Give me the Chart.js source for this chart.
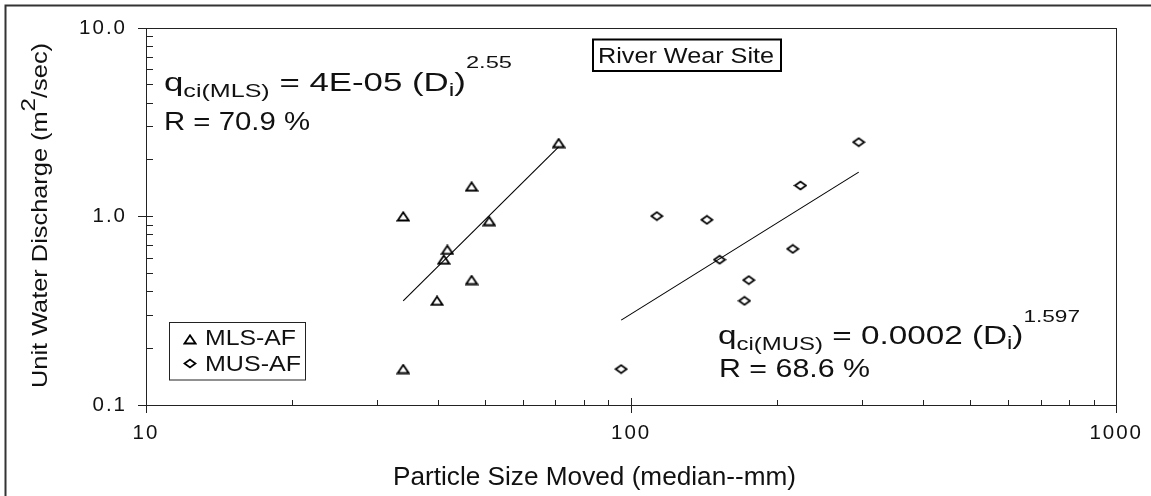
<!DOCTYPE html>
<html><head><meta charset="utf-8">
<script src="https://cdn.jsdelivr.net/npm/chart.js@4.4.1/dist/chart.umd.min.js"></script>
<style>html,body{margin:0;padding:0;background:#fff;overflow:hidden}</style>
</head><body>
<canvas id="c" width="1151" height="496" style="width:1151px;height:496px;display:block"></canvas>
<script>
// ---- data ----
const mlsSize = [70.9, 46.9, 33.9, 51.0, 41.8, 41.1, 46.9, 39.8, 33.9];
const mlsQ    = [2.45, 1.44, 1.00, 0.945, 0.665, 0.59, 0.46, 0.357, 0.155];
const musSize = [294.6, 223.4, 113.0, 143.3, 215.4, 152.2, 174.8, 171.3, 95.4];
const musQ    = [2.48, 1.46, 1.005, 0.96, 0.673, 0.59, 0.46, 0.357, 0.155];
const mlsFitSize = [33.9, 70.9];
const mlsFitQ    = [0.357, 2.34];
const musFitSize = [95.4, 294.6];
const musFitQ    = [0.282, 1.72];
const xTickVals = [10, 100, 1000];
const yTickVals = [0.1, 1, 10];
const seriesNames = ['MLS-AF', 'MUS-AF'];

const FAM = "'Liberation Sans', Arial, Helvetica, sans-serif";
const INK = '#111';

function marker(kind) {
  const c = document.createElement('canvas');
  c.width = 14; c.height = 11;
  const g = c.getContext('2d');
  g.strokeStyle = '#000'; g.lineWidth = 1.8; g.lineJoin = 'miter';
  g.beginPath();
  if (kind === 'tri') { g.moveTo(1.5, 9.5); g.lineTo(7, 1.3); g.lineTo(12.5, 9.5); g.closePath(); }
  else { g.moveTo(1.5, 5.5); g.lineTo(7, 1.5); g.lineTo(12.5, 5.5); g.lineTo(7, 9.5); g.closePath(); }
  g.stroke();
  return c;
}
const triM = marker('tri'), diaM = marker('dia');

function pts(xs, ys) { return xs.map((x, i) => ({x: x, y: ys[i]})); }

// draw rich text pieces scaled horizontally to fit target width
function fitText(ctx, pieces, x, base, targetW, rot) {
  ctx.save();
  ctx.letterSpacing = '0px';
  let nat = 0;
  pieces.forEach(p => { ctx.font = p.size + 'px ' + FAM; p.w = ctx.measureText(p.t).width; nat += p.w; });
  const s = targetW / nat;
  ctx.translate(x, base);
  if (rot) ctx.rotate(-Math.PI / 2);
  ctx.scale(s, 1);
  ctx.fillStyle = INK;
  ctx.textBaseline = 'alphabetic';
  ctx.textAlign = 'left';
  let cx = 0;
  pieces.forEach(p => { ctx.font = p.size + 'px ' + FAM; ctx.fillText(p.t, cx, p.dy || 0); cx += p.w; });
  ctx.restore();
}

const LS = '2px';
const al = v => Math.round(v - 0.5) + 0.5;

const decor = {
  id: 'decor',
  afterInit(ch) { ch.ctx.letterSpacing = LS; },
  beforeUpdate(ch) { ch.ctx.letterSpacing = LS; },
  beforeDraw(ch) { ch.ctx.letterSpacing = LS; },
  afterDraw(ch) {
    const ctx = ch.ctx, a = ch.chartArea, xs = ch.scales.x, ys = ch.scales.y;
    ctx.save();
    ctx.letterSpacing = '0px';
    // outer frame (top + left visible)
    ctx.strokeStyle = '#333'; ctx.lineWidth = 2;
    ctx.strokeRect(5.5, 5.5, 1160, 500);
    // plot frame
    ctx.strokeStyle = '#222'; ctx.lineWidth = 1;
    ctx.strokeRect(al(a.left), al(a.top), al(a.right) - al(a.left), al(a.bottom) - al(a.top));
    // inner minor ticks
    ctx.beginPath();
    [0.1, 1].forEach(d => {
      for (let k = 2; k <= 9; k++) {
        const py = al(ys.getPixelForValue(k * d));
        ctx.moveTo(a.left, py); ctx.lineTo(a.left + 7, py);
      }
    });
    const p1 = al(ys.getPixelForValue(1));
    ctx.moveTo(a.left, p1); ctx.lineTo(a.left + 7, p1);
    [10, 100].forEach(d => {
      for (let k = 2; k <= 9; k++) {
        const px = al(xs.getPixelForValue(k * d));
        ctx.moveTo(px, a.bottom); ctx.lineTo(px, a.bottom - 5);
      }
    });
    const p100 = al(xs.getPixelForValue(100));
    ctx.moveTo(p100, a.bottom); ctx.lineTo(p100, a.bottom - 7);
    ctx.stroke();
    ctx.restore();

    // axis titles
    fitText(ctx, [{t: 'Particle Size Moved (median--mm)', size: 25}], 393, 485, 403);
    fitText(ctx, [
      {t: 'Unit Water Discharge (m', size: 22},
      {t: '2', size: 21, dy: -12},
      {t: '/sec)', size: 22}
    ], 47, 388, 345, true);

    // equations
    fitText(ctx, [
      {t: 'q', size: 25}, {t: 'ci(MLS)', size: 18, dy: 6},
      {t: ' = 4E-05 (D', size: 25}, {t: 'i', size: 18, dy: 5},
      {t: ')', size: 25}, {t: '2.55', size: 17, dy: -23}
    ], 164, 91, 348);
    fitText(ctx, [{t: 'R = 70.9 %', size: 25}], 164, 130, 146);
    fitText(ctx, [
      {t: 'q', size: 25}, {t: 'ci(MUS)', size: 18, dy: 6},
      {t: ' = 0.0002 (D', size: 25}, {t: 'i', size: 18, dy: 5},
      {t: ')', size: 25}, {t: '1.597', size: 17, dy: -22}
    ], 718, 344, 362);
    fitText(ctx, [{t: 'R = 68.6 %', size: 25}], 719, 377, 151);

    // site label box
    ctx.save();
    ctx.strokeStyle = '#000'; ctx.lineWidth = 2;
    ctx.strokeRect(593, 39.5, 188, 31.5);
    ctx.restore();
    fitText(ctx, [{t: 'River Wear Site', size: 22}], 598, 63, 176);

    // legend
    ctx.save();
    ctx.strokeStyle = '#222'; ctx.lineWidth = 1;
    ctx.strokeRect(169.5, 322.5, 136, 57.5);
    ctx.drawImage(triM, 190 - triM.width / 2, 339.5 - triM.height / 2);
    ctx.drawImage(diaM, 190 - diaM.width / 2, 363.5 - diaM.height / 2);
    ctx.restore();
    fitText(ctx, [{t: seriesNames[0], size: 22}], 205, 345, 91);
    fitText(ctx, [{t: seriesNames[1], size: 22}], 205, 370.5, 96);
    ctx.letterSpacing = LS;
  }
};

const tickFont = {family: FAM, size: 20.5};

new Chart(document.getElementById('c'), {
  type: 'scatter',
  data: {
    datasets: [
      {label: seriesNames[0], data: pts(mlsSize, mlsQ), pointStyle: triM, pointRadius: 6, showLine: false},
      {label: seriesNames[1], data: pts(musSize, musQ), pointStyle: diaM, pointRadius: 6, showLine: false},
      {label: 'MLS fit', data: pts(mlsFitSize, mlsFitQ), showLine: true, pointRadius: 0, borderColor: '#000', borderWidth: 1.1, fill: false},
      {label: 'MUS fit', data: pts(musFitSize, musFitQ), showLine: true, pointRadius: 0, borderColor: '#000', borderWidth: 1.1, fill: false}
    ]
  },
  options: {
    responsive: false,
    animation: false,
    events: [],
    layout: {padding: {top: 28, right: 34, left: 0, bottom: 0}},
    plugins: {legend: {display: false}, tooltip: {enabled: false}, title: {display: false}},
    scales: {
      x: {
        type: 'logarithmic', min: 10, max: 1000,
        afterFit: s => { s.height = 91; },
        afterBuildTicks: s => { s.ticks = xTickVals.map(v => ({value: v, major: true})); },
        ticks: {font: tickFont, color: INK, padding: 8, maxRotation: 0, autoSkip: false,
                callback: v => String(v)},
        grid: {drawOnChartArea: false, drawTicks: true, tickLength: 8, color: '#222', lineWidth: 1},
        border: {display: true, color: '#222', width: 1},
        title: {display: false}
      },
      y: {
        type: 'logarithmic', min: 0.1, max: 10,
        afterFit: s => { s.width = 146; },
        afterBuildTicks: s => { s.ticks = yTickVals.map(v => ({value: v, major: true})); },
        ticks: {font: tickFont, color: INK, padding: 11, autoSkip: false,
                callback: v => Number(v).toFixed(1)},
        grid: {drawOnChartArea: false, drawTicks: true, tickLength: 8, color: '#222', lineWidth: 1},
        border: {display: true, color: '#222', width: 1},
        title: {display: false}
      }
    }
  },
  plugins: [decor]
});
</script>
</body></html>
